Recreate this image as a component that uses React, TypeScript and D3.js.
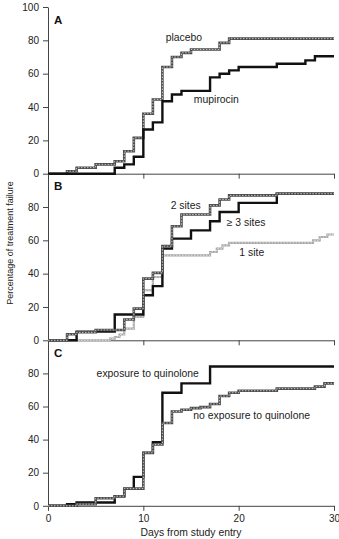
import * as d3 from "d3";
import React, { useEffect, useRef } from "react";

type Pt = [number, number];

// x axis (days) and y axis (percent) ticks
const dayTicks = [0, 10, 20, 30];
const pctTicksA = [0, 20, 40, 60, 80, 100];
const pctTicks = [0, 20, 40, 60, 80];

// A: nasal mupirocin vs placebo  [day, % failure]
const placebo: Pt[] = [[0, 0], [2, 1.5], [3, 3.6], [5, 5.6], [7, 7.5], [8, 13.5], [9, 21.5], [10, 36], [11, 44.5], [12, 64], [13, 70], [14, 72.5], [15, 74.5], [18, 78.5], [19, 81]];
const mupirocin: Pt[] = [[0, 0], [7, 3.6], [8, 5.6], [9, 10.2], [10, 26.5], [11, 30.8], [12, 43.5], [13, 47.5], [14, 49.7], [17, 57.8], [18, 60], [19, 62], [20, 64], [24, 66], [27, 68], [28, 70.5]];

// B: number of colonized sites
const oneSite: Pt[] = [[0, 0], [6.5, 1], [7, 2], [7.5, 3.5], [8, 7], [9, 14], [10, 30], [11, 38], [12, 51], [17, 53], [17.7, 55], [18.3, 57], [19, 58.5], [27.8, 60], [28.5, 62], [29.3, 63.5]];
const twoSites: Pt[] = [[0, 0], [2, 3.6], [3, 4.8], [5, 6.2], [8, 12.5], [9, 19], [10, 37], [11, 40.5], [12, 56.5], [13, 68.5], [14, 75.5], [17, 81], [18, 84.5], [19, 87], [24, 88]];
const threeSites: Pt[] = [[0, 0], [3, 5.2], [7, 15.5], [10, 27], [11, 32.5], [12, 55], [13, 61], [15, 66], [17, 71.5], [18, 77], [20, 82.5], [24, 88]];

// C: prior quinolone exposure
const quinolone: Pt[] = [[0, 0], [2, 1], [3, 2], [7, 5.8], [8, 10.2], [9, 17.5], [10, 32], [11, 38.5], [12, 68.3], [14, 74], [17, 84.2]];
const noQuinolone: Pt[] = [[0, 0], [3, 1], [5, 4.6], [7, 5.8], [8, 10.4], [10, 32], [11, 37], [12, 50], [13, 57], [14, 58], [15, 59], [16, 59.6], [17, 61.5], [18, 66.3], [19, 68.3], [20, 69.5], [24, 70.8], [28, 72], [29, 74]];

const FONT = "'Liberation Sans', Arial, Helvetica, sans-serif";

const App = () => {
  const svgRef = useRef<SVGSVGElement>(null);

  useEffect(() => {
    const w = 339;
    const h = 539;
    const x = d3.scaleLinear().domain([0, 30]).range([48, 334]);

    const panels = [
      {
        letter: "A", top: 7, bottom: 173.7, ticks: pctTicksA,
        series: [
          { data: placebo, style: "hatch" },
          { data: mupirocin, style: "solid" },
        ],
        labels: [
          { text: "placebo", day: 12.35, pct: 79.6 },
          { text: "mupirocin", day: 15.3, pct: 42.6 },
        ],
      },
      {
        letter: "B", top: 173.7, bottom: 340.3, ticks: pctTicks,
        series: [
          { data: oneSite, style: "light" },
          { data: threeSites, style: "solid" },
          { data: twoSites, style: "hatch" },
        ],
        labels: [
          { text: "2 sites", day: 12.87, pct: 78.8 },
          { text: "\u2265 3 sites", day: 18.75, pct: 68.8 },
          { text: "1 site", day: 20.07, pct: 50.8 },
        ],
      },
      {
        letter: "C", top: 340.3, bottom: 505.8, ticks: pctTicks,
        series: [
          { data: quinolone, style: "solid" },
          { data: noQuinolone, style: "hatch" },
        ],
        labels: [
          { text: "exposure to quinolone", day: 5.1, pct: 78 },
          { text: "no exposure to quinolone", day: 15.24, pct: 52.3 },
        ],
      },
    ];

    const svg = d3.select(svgRef.current).attr("width", w).attr("height", h);
    svg.selectAll("*").remove();

    panels.forEach((p, i) => {
      const y = d3.scaleLinear().domain([0, 100]).range([p.bottom, p.top]);
      const g = svg.append("g");

      // y axis
      const yAxis = d3.axisLeft(y).tickValues(p.ticks).tickSize(5).tickPadding(4).tickSizeOuter(0);
      g.append("g").attr("transform", `translate(${x(0)},0)`).call(yAxis);

      // x axis, labels only on the last panel
      const xAxis = d3.axisBottom(x).tickValues(i === 2 ? dayTicks : dayTicks.slice(1))
        .tickSize(5).tickPadding(4).tickSizeOuter(0);
      if (i !== 2) xAxis.tickFormat(() => "");
      g.append("g").attr("transform", `translate(0,${p.bottom})`).call(xAxis);

      g.selectAll(".domain").attr("stroke", "#444").attr("stroke-width", 1);
      g.selectAll(".tick line").attr("stroke", "#444");
      g.selectAll(".tick text").attr("font-family", FONT).attr("font-size", 10).attr("fill", "#222");

      const line = d3.line<Pt>()
        .x(d => x(d[0]))
        .y(d => y(d[1]))
        .curve(d3.curveStepAfter);

      p.series.forEach(s => {
        const pts: Pt[] = [...s.data, [30, s.data[s.data.length - 1][1]]];
        const dStr = line(pts) as string;
        if (s.style === "solid") {
          g.append("path").attr("d", dStr).attr("fill", "none")
            .attr("stroke", "#111").attr("stroke-width", 2.4);
        } else if (s.style === "hatch") {
          g.append("path").attr("d", dStr).attr("fill", "none")
            .attr("stroke", "#4a4a4a").attr("stroke-width", 2.6);
          g.append("path").attr("d", dStr).attr("fill", "none")
            .attr("stroke", "#c8c8c8").attr("stroke-width", 1)
            .attr("stroke-dasharray", "1.5 1.5");
        } else {
          g.append("path").attr("d", dStr).attr("fill", "none")
            .attr("stroke", "#a8a8a8").attr("stroke-width", 2.1);
          g.append("path").attr("d", dStr).attr("fill", "none")
            .attr("stroke", "#ececec").attr("stroke-width", 0.8)
            .attr("stroke-dasharray", "1.5 1.5");
        }
      });

      p.labels.forEach(l => {
        g.append("text")
          .attr("x", x(l.day))
          .attr("y", y(l.pct))
          .attr("font-family", FONT)
          .attr("font-size", 10.4)
          .attr("fill", "#222")
          .text(l.text);
      });

      g.append("text")
        .attr("x", 54)
        .attr("y", p.top + (i === 0 ? 17 : 16.5))
        .attr("font-family", FONT)
        .attr("font-size", 11.5)
        .attr("font-weight", "bold")
        .attr("fill", "#111")
        .text(p.letter);
    });

    svg.append("text")
      .attr("transform", "translate(12.5,243) rotate(-90)")
      .attr("text-anchor", "middle")
      .attr("font-family", FONT)
      .attr("font-size", 9)
      .attr("fill", "#222")
      .text("Percentage of treatment failure");

    svg.append("text")
      .attr("x", 191)
      .attr("y", 535.5)
      .attr("text-anchor", "middle")
      .attr("font-family", FONT)
      .attr("font-size", 10.4)
      .attr("fill", "#222")
      .text("Days from study entry");
  }, []);

  return (
    <div style={{ position: "absolute", left: 0, top: 0 }}>
      <svg ref={svgRef} style={{ display: "block" }} />
    </div>
  );
};

export default App;
